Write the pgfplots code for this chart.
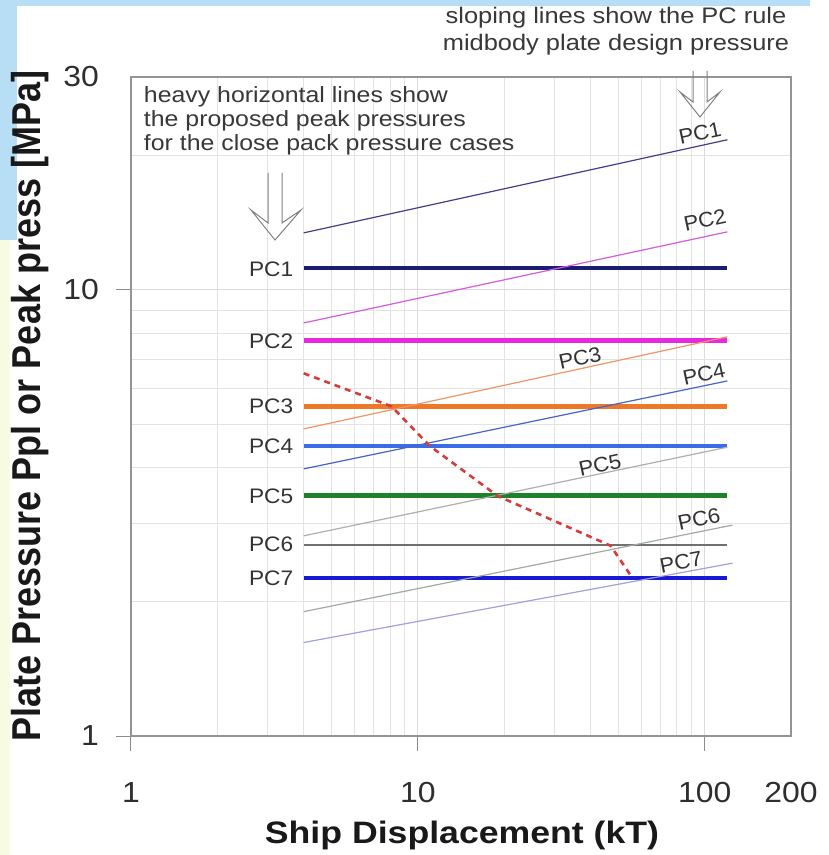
\documentclass[border=0pt]{standalone}
\usepackage{pgfplots}
\pgfplotsset{compat=1.18}
\usepackage{fontspec}
\setmainfont{Liberation Sans}

\definecolor{bgblue}{RGB}{184,222,245}
\definecolor{bgyellow}{RGB}{247,251,226}
\definecolor{hPCa}{RGB}{28,28,112}
\definecolor{hPCb}{RGB}{232,40,222}
\definecolor{hPCc}{RGB}{236,120,40}
\definecolor{hPCd}{RGB}{58,108,230}
\definecolor{hPCe}{RGB}{30,130,40}
\definecolor{hPCf}{RGB}{112,112,112}
\definecolor{hPCg}{RGB}{25,25,215}
\definecolor{sPCa}{RGB}{70,60,140}
\definecolor{sPCb}{RGB}{212,92,222}
\definecolor{sPCc}{RGB}{240,150,100}
\definecolor{sPCd}{RGB}{70,100,200}
\definecolor{sPCe}{RGB}{175,175,175}
\definecolor{sPCf}{RGB}{160,172,160}
\definecolor{sPCg}{RGB}{160,160,226}
\definecolor{envred}{RGB}{214,60,60}

\begin{document}
\begin{tikzpicture}
\fill[white] (0pt,0pt) rectangle (829pt,855pt);
\begin{scope}[x=1pt,y=-1pt,shift={(0pt,855pt)}]
  \fill[bgblue] (0,0) rectangle (810,6);
  \fill[bgblue] (0,0) rectangle (17,240);
  \fill[bgyellow] (0,240) rectangle (10,855);
\end{scope}
\begin{axis}[
  at={(131pt,119pt)}, anchor=south west,
  scale only axis, width=660pt, height=659pt,
  xmode=log, ymode=log,
  xmin=1, xmax=200, ymin=1, ymax=30,
  xtick pos=bottom, ytick pos=left,
  xtick={1,10,100}, xticklabels={1,10,100},
  extra x ticks={200}, extra x tick labels={200},
  extra x tick style={grid=none, major tick style={draw=none}},
  ytick={1,10}, yticklabels={1,10},
  extra y ticks={30}, extra y tick labels={30},
  extra y tick style={grid=none, major tick style={draw=none}},
  minor xtick={2,3,4,5,6,7,8,9,20,30,40,50,60,70,80,90},
  minor ytick={2,3,4,5,6,7,8,9,20},
  grid=both,
  major grid style={draw=black!14, line width=0.9pt},
  minor grid style={draw=black!11, line width=0.8pt},
  axis line style={draw=black!42, line width=1.3pt},
  tick align=outside, major tick length=15pt, minor tick length=0pt,
  tick style={draw=black!45, line width=1pt},
  ticklabel style={font=\fontsize{29}{29}\selectfont, text=black!82, xscale=1.1},
  xticklabel style={yshift=-28pt},
  yticklabel style={xshift=-12pt},
]
% heavy horizontal lines: proposed peak pressures
\addplot[hPCa, line width=4.5pt] coordinates {(4,11.2) (120,11.2)};
\addplot[hPCb, line width=4.5pt] coordinates {(4,7.7) (120,7.7)};
\addplot[hPCc, line width=4.5pt] coordinates {(4,5.48) (120,5.48)};
\addplot[hPCd, line width=4.5pt] coordinates {(4,4.47) (120,4.47)};
\addplot[hPCe, line width=4.5pt] coordinates {(4,3.46) (120,3.46)};
\addplot[hPCf, line width=2pt] coordinates {(4,2.68) (120,2.68)};
\addplot[hPCg, line width=4.5pt] coordinates {(4,2.26) (120,2.26)};
% sloping lines: PC rule midbody plate design pressure
\addplot[sPCa, line width=1.2pt] coordinates {(4,13.42) (120,21.7)};
\addplot[sPCb, line width=1.2pt] coordinates {(4,8.43) (120,13.49)};
\addplot[sPCc, line width=1.2pt] coordinates {(4,4.88) (120,7.85)};
\addplot[sPCd, line width=1.2pt] coordinates {(4,3.97) (120,6.25)};
\addplot[sPCe, line width=1.2pt] coordinates {(4,2.81) (120,4.44)};
\addplot[sPCf, line width=1.2pt] coordinates {(4,1.90) (125,2.97)};
\addplot[sPCg, line width=1.2pt] coordinates {(4,1.62) (125,2.44)};
% envelope (red dashed)
\addplot[envred, line width=2.6pt, dash pattern=on 6pt off 5pt] coordinates {(4,6.5) (8.1,5.48) (11,4.47) (19,3.45) (47,2.67) (56,2.26)};
\end{axis}
\begin{scope}[x=1pt,y=-1pt,shift={(0pt,855pt)}]
  % axis titles
  \node[font=\bfseries\fontsize{31}{31}\selectfont, text=black!90, xscale=1.15] at (462,835) {Ship Displacement (kT)};
  \node[rotate=90, font=\bfseries\fontsize{36}{36}\selectfont, text=black!90, yscale=1.12] at (30,406) {Plate Pressure Ppl or Peak press [MPa]};
  % annotations
  \node[anchor=west, align=left, font=\fontsize{22}{24}\selectfont, text=black!78, xscale=1.13] at (140,121) {heavy horizontal lines show\\the proposed peak pressures\\for the close pack pressure cases};
  \node[align=center, font=\fontsize{22.5}{27}\selectfont, text=black!78, xscale=1.13] at (616,31.5) {sloping lines show the PC rule\\midbody plate design pressure};
  % arrows
  \draw[black!50, line width=1pt, line join=miter] (268,173) -- (268,223) -- (251,210) -- (275,240) -- (301,210) -- (282,223) -- (282,173);
  \draw[black!50, line width=1pt, line join=miter] (693,71) -- (693,102) -- (680,92) -- (700,117) -- (720,92) -- (707,102) -- (707,71);
  % left labels
  \foreach \lab/\yy in {PC1/269,PC2/341,PC3/406,PC4/446,PC5/496,PC6/544,PC7/578}
    \node[anchor=east, font=\fontsize{21}{21}\selectfont, text=black!80, xscale=1.08] at (297,\yy) {\lab};
  % sloping labels
  \node[rotate=12, font=\fontsize{21}{21}\selectfont, text=black!80, xscale=1.05] at (700,133) {PC1};
  \node[rotate=12, font=\fontsize{21}{21}\selectfont, text=black!80, xscale=1.05] at (705,220) {PC2};
  \node[rotate=12, font=\fontsize{21}{21}\selectfont, text=black!80, xscale=1.05] at (580,358) {PC3};
  \node[rotate=12, font=\fontsize{21}{21}\selectfont, text=black!80, xscale=1.05] at (704,374) {PC4};
  \node[rotate=12, font=\fontsize{21}{21}\selectfont, text=black!80, xscale=1.05] at (600,465) {PC5};
  \node[rotate=12, font=\fontsize{21}{21}\selectfont, text=black!80, xscale=1.05] at (699,519) {PC6};
  \node[rotate=11, font=\fontsize{21}{21}\selectfont, text=black!80, xscale=1.05] at (681,562) {PC7};
\end{scope}
\end{tikzpicture}
\end{document}
